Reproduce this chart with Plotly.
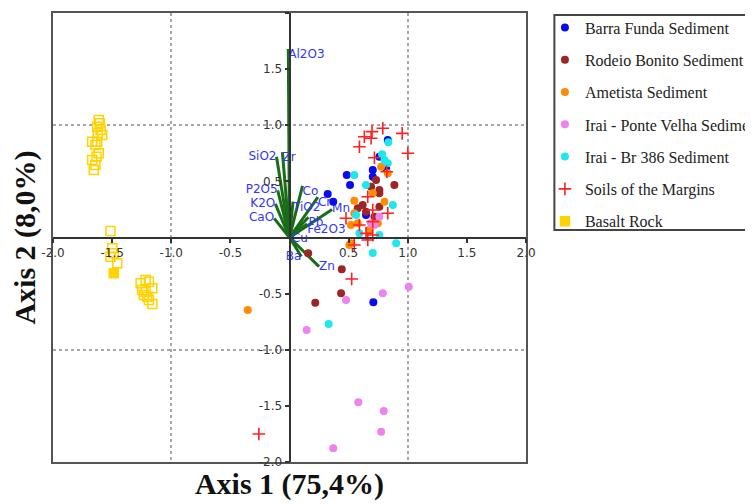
import plotly.graph_objects as go

# ---------------- data ----------------
barra_x = [0.831, 0.760, 0.704, 0.704, 0.484, 0.512, 0.817, 0.647, 0.323, 0.370, 0.709]
barra_y = [0.869, 0.720, 0.601, 0.542, 0.557, 0.468, 0.617, 0.200, 0.388, 0.319, -0.577]

rodeio_x = [0.732, 0.887, 0.690, 0.760, 0.760, 0.619, 0.577, 0.647, 0.718, 0.760, 0.158, 0.442, 0.436, 0.218]
rodeio_y = [0.512, 0.468, 0.453, 0.423, 0.394, 0.290, 0.260, 0.230, 0.185, 0.274, -0.141, -0.283, -0.497, -0.581]

ametista_x = [0.775, 0.831, 0.803, 0.548, 0.577, 0.675, 0.520, 0.747, 0.506, -0.353, 0.548, 0.520, 0.704]
ametista_y = [0.631, 0.572, 0.319, 0.216, 0.127, 0.067, -0.052, 0.127, -0.067, -0.646, 0.328, 0.111, 0.394]

ponte_x = [0.690, 0.718, 0.760, 0.789, 1.009, 0.478, 0.145, 0.582, 0.797, 0.775, 0.370]
ponte_y = [0.127, 0.111, 0.185, -0.497, -0.438, -0.557, -0.824, -1.468, -1.546, -1.730, -1.878]

br386_x = [0.836, 0.783, 0.803, 0.831, 0.548, 0.647, 0.874, 0.563, 0.591, 0.760, 0.902, 0.704, 0.331]
br386_y = [0.848, 0.741, 0.690, 0.661, 0.557, 0.468, 0.290, 0.200, 0.037, 0.022, -0.052, -0.137, -0.771]

soils_x = [0.789, 0.698, 0.690, 0.633, 0.591, 0.953, 1.001, 0.718, 0.823, 0.662, 0.704, 0.831,
           0.478, 0.591, 0.704, 0.647, 0.704, 0.548, 0.662, 0.526, -0.259]
soils_y = [0.973, 0.943, 0.884, 0.898, 0.809, 0.928, 0.750, 0.711, 0.586, 0.363, 0.245, 0.216,
           0.171, 0.111, 0.141, 0.037, 0.022, -0.067, -0.022, -0.370, -1.750]

basalt_x = [-1.486, -1.613, -1.604, -1.626, -1.598, -1.621, -1.584, -1.669, -1.626, -1.641, -1.613,
            -1.632, -1.669, -1.641, -1.655, -1.514, -1.499, -1.486, -1.457, -1.514,
            -1.259, -1.217, -1.189, -1.160, -1.245, -1.231, -1.203, -1.189, -1.160, -1.217]
basalt_y = [-0.319, 1.047, 1.017, 0.987, 0.958, 0.929, 0.913, 0.853, 0.853, 0.824, 0.750,
            0.720, 0.690, 0.646, 0.602, 0.058, -0.096, -0.141, -0.230, -0.171,
            -0.408, -0.379, -0.394, -0.453, -0.468, -0.512, -0.527, -0.557, -0.592, -0.483]

vec_labels = ["Al2O3", "SiO2", "Zr", "P2O5", "K2O", "CaO", "Co", "TiO2", "Cr", "Mn",
              "Pb", "Fe2O3", "Cu", "Ba", "Zn"]
vec_x = [-0.01, -0.11, -0.06, -0.10, -0.12, -0.13, 0.11, 0.03, 0.24, 0.36, 0.16, 0.15, 0.02, 0.10, 0.25]
vec_y = [1.68, 0.72, 0.76, 0.42, 0.30, 0.17, 0.46, 0.32, 0.36, 0.25, 0.18, 0.12, 0.04, -0.17, -0.26]
vec_textpos = ["bottom right", "middle left", "bottom right", "middle left", "middle left",
               "middle left", "bottom right", "bottom right", "bottom right", "middle right",
               "bottom right", "bottom right", "bottom right", "middle left", "middle right"]

tick_vals = [-2.0, -1.5, -1.0, -0.5, 0.5, 1.0, 1.5, 2.0]
tick_text = ["-2.0", "-1.5", "-1.0", "-0.5", "0.5", "1.0", "1.5", "2.0"]

# ---------------- figure ----------------
fig = go.Figure()

# loading vectors
lx, ly, lt, lp = [], [], [], []
for lab, x, y, p in zip(vec_labels, vec_x, vec_y, vec_textpos):
    lx += [0, x, None]
    ly += [0, y, None]
    lt += ["", lab, ""]
    lp += ["middle center", p, "middle center"]
fig.add_trace(go.Scatter(
    x=lx, y=ly, text=lt, textposition=lp, mode="lines+text",
    line=dict(color="#176e17", width=3),
    textfont=dict(family="DejaVu Sans", size=12, color="#3535f5"),
    showlegend=False, hoverinfo="skip", connectgaps=False))

def pts(name, x, y, color, group):
    fig.add_trace(go.Scatter(
        x=x, y=y, mode="markers", name=name, legendgroup=group,
        marker=dict(color=color, size=8, symbol="circle")))

pts("Barra Funda Sediment", barra_x, barra_y, "#0a0af0", "g1")
pts("Rodeio Bonito Sediment", rodeio_x, rodeio_y, "#9b2626", "g2")
pts("Ametista Sediment", ametista_x, ametista_y, "#ff8c00", "g3")
pts("Irai - Ponte Velha Sediment", ponte_x, ponte_y, "#ee82ee", "g4")
pts("Irai - Br 386 Sediment", br386_x, br386_y, "#1ee8ee", "g5")

fig.add_trace(go.Scatter(
    x=soils_x, y=soils_y, mode="markers", name="Soils of the Margins", legendgroup="g6",
    marker=dict(symbol="cross-thin", size=9, color="#ff2020",
                line=dict(color="#ff2020", width=1.6))))

fig.add_trace(go.Scatter(
    x=basalt_x, y=basalt_y, mode="markers", name="Basalt Rock", legendgroup="g7",
    marker=dict(symbol=["square"] + ["square-open"] * (len(basalt_x) - 1), size=9,
                color="#ffd200", line=dict(color="#ffd200", width=1.5))))

# helper trace for the frame / grid axes
fig.add_trace(go.Scatter(x=[], y=[], xaxis="x2", yaxis="y2", showlegend=False, hoverinfo="skip"))

tickfont = dict(family="DejaVu Sans", size=12, color="#333333")
center_axis = dict(range=[-2, 2], anchor="free", position=0.5, showline=True,
                   linecolor="#333333", linewidth=2, ticks="outside", ticklen=4,
                   tickwidth=1.5, tickcolor="#333333", tickvals=tick_vals, ticktext=tick_text,
                   showgrid=False, zeroline=False, tickfont=tickfont, fixedrange=True)
fig.update_layout(xaxis=center_axis, yaxis=center_axis)

frame_axis = dict(range=[-2, 2], showline=True, mirror=True, linecolor="#555555", linewidth=1.5,
                  tickvals=[-1, 1], showticklabels=False, ticks="", showgrid=True,
                  gridcolor="#a8a8a8", griddash="dot", gridwidth=1.5, zeroline=False,
                  fixedrange=True)
titlefont = dict(family="Liberation Serif", size=30, color="#111111")
fig.update_layout(
    xaxis2=dict(frame_axis, overlaying="x", anchor="y2", side="bottom",
                title=dict(text="<b>Axis 1 (75,4%)</b>", font=titlefont, standoff=10)),
    yaxis2=dict(frame_axis, overlaying="y", anchor="x2", side="left",
                title=dict(text="<b>Axis 2 (8,0%)</b>", font=titlefont, standoff=8)),
)

# legend frame
fig.add_shape(type="rect", xref="paper", yref="paper", x0=1.060, x1=1.60, y0=0.5167, y1=0.9955,
              line=dict(color="#444444", width=2), fillcolor="rgba(0,0,0,0)", layer="above")

fig.update_layout(
    width=745, height=496,
    margin=dict(l=45, r=227, t=5, b=42, pad=0, autoexpand=False),
    paper_bgcolor="white", plot_bgcolor="white",
    showlegend=True,
    legend=dict(x=1.0400, xanchor="left", y=1.0056, yanchor="top",
                traceorder="grouped", tracegroupgap=8.5,
                font=dict(family="Liberation Serif", size=16, color="#222222"),
                borderwidth=0, bgcolor="rgba(0,0,0,0)",
                itemwidth=30),
)

fig.write_html("out.html")
